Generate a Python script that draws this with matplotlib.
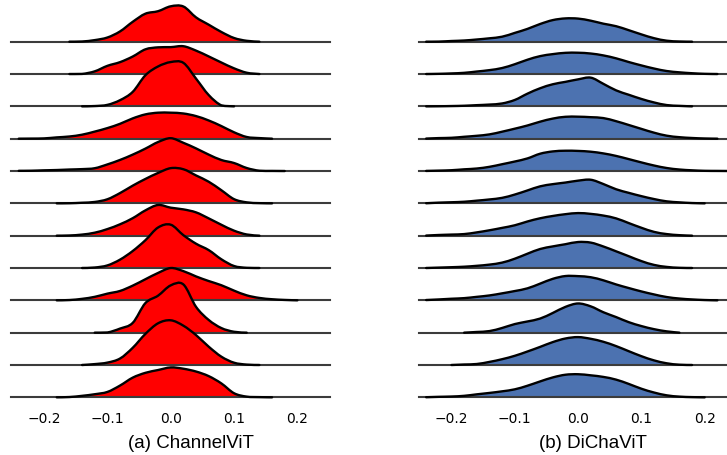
import numpy as np
import matplotlib.pyplot as plt
from matplotlib.path import Path
from matplotlib.patches import PathPatch

# x positions where the ridge heights were read
x_grid = [-0.24, -0.22, -0.20, -0.18, -0.16, -0.14, -0.12, -0.10, -0.08, -0.06,
          -0.04, -0.02, 0.00, 0.02, 0.04, 0.06, 0.08, 0.10, 0.12, 0.14,
          0.16, 0.18, 0.20, 0.22, 0.24]

# density per row (arbitrary units, shared scale), top row first
channelvit = [
    [0, 0, 0, 0, 0, 0.2, 1.6, 4.2, 10.3, 19.9, 28, 30.5, 35.4, 35.2, 24.3, 17, 9.7, 3.7, 0.9, 0, 0, 0, 0, 0, 0],
    [0, 0, 0, 0, 0, 0.1, 2.7, 8.2, 11.9, 17.5, 24.7, 26.7, 26.9, 27.8, 23.4, 17.6, 11.5, 5.7, 1.3, 0, 0, 0, 0, 0, 0],
    [0, 0, 0, 0, 0, 0, 0.3, 1.5, 6.2, 14.5, 31.1, 39.9, 44.3, 43.5, 27.7, 11.3, 1, 0, 0, 0, 0, 0, 0, 0, 0],
    [0, 0.1, 0.3, 1.3, 2.2, 4, 7.1, 10.6, 14.9, 20.3, 24.3, 26, 26, 25.2, 22.6, 18.2, 12.6, 6.4, 1.7, 0.6, 0, 0, 0, 0, 0],
    [0.2, 0.3, 0.7, 1, 1.5, 1.9, 2.8, 6.6, 11.1, 16.4, 22.4, 29, 32.8, 28.2, 22.6, 16.4, 11, 8, 3, 0.3, 0.1, 0, 0, 0, 0],
    [0, 0, 0, 0, 0.1, 0.6, 1.4, 4.1, 10.3, 17.7, 24.4, 30.4, 35.2, 34.1, 27.9, 21.6, 13.1, 4.2, 1, 0.2, 0, 0, 0, 0, 0],
    [0, 0, 0, 0, 0.2, 1.1, 3, 6.6, 11.4, 17.5, 25.3, 30.7, 28, 26.3, 23.3, 17.3, 10.9, 5, 1.2, 0, 0, 0, 0, 0, 0],
    [0, 0, 0, 0, 0, 0, 0.5, 2.6, 8.4, 17, 27.8, 40.5, 43.3, 32.8, 24.3, 17.9, 8.7, 2, 0.2, 0, 0, 0, 0, 0, 0],
    [0, 0, 0, 0, 0.3, 1.5, 3.5, 6.7, 9.4, 14.7, 21.1, 27.4, 32.3, 29.2, 23.9, 19.3, 15.1, 9.7, 5, 2.4, 1.1, 0.4, 0, 0, 0],
    [0, 0, 0, 0, 0, 0, 0, 0.2, 4.1, 9.8, 29.6, 37, 47.3, 48.2, 25.8, 12.7, 4.6, 0.9, 0, 0, 0, 0, 0, 0, 0],
    [0, 0, 0, 0, 0, 0, 0.9, 2.4, 6.5, 17.2, 31.1, 41.7, 44.7, 39.3, 29.9, 18.3, 8.3, 2.3, 0.4, 0, 0, 0, 0, 0, 0],
    [0, 0, 0, 0, 0.3, 1.5, 3.1, 5.4, 11.8, 19.7, 24.5, 27.3, 29.9, 28.6, 25.8, 21.2, 13.9, 4.1, 0.7, 0.2, 0, 0, 0, 0, 0],
]

dichavit = [
    [0, 0.1, 0.7, 1.2, 2.2, 3.4, 5, 8.8, 12.8, 17.7, 21.6, 23.3, 23.1, 21, 18, 15.5, 11.5, 7.3, 3.5, 1, 0.2, 0, 0, 0, 0],
    [0, 0.2, 0.6, 1.2, 2.5, 3.9, 6, 9.8, 14.3, 17.9, 19.9, 21.2, 21.3, 20.5, 18.6, 15.7, 12, 8.6, 5.5, 3, 1.7, 0.8, 0.2, 0, 0],
    [0, 0.1, 0.3, 0.6, 1.2, 1.8, 2.9, 6.4, 12.7, 18.1, 22.1, 24.5, 27, 28.7, 22.5, 16, 11.6, 7.4, 3.9, 1.3, 0.5, 0, 0, 0, 0],
    [0.1, 0.6, 0.9, 1.9, 2.9, 4.3, 7, 10, 13.2, 17, 20.1, 21.9, 22, 21.5, 20.6, 17.5, 13.7, 9.8, 6, 3, 1.5, 0.7, 0.2, 0, 0],
    [0.1, 0.4, 0.8, 1.7, 2.5, 4.2, 6.8, 9.5, 12.6, 17.3, 19.6, 20.3, 20.1, 19.3, 17.6, 15.1, 11.9, 8.6, 5.5, 3, 1.5, 0.7, 0.2, 0.1, 0],
    [0.1, 0.7, 1.1, 1.6, 2.7, 3.9, 5.5, 8.8, 12.9, 17, 19.2, 20.8, 22.7, 23.6, 19.3, 14.1, 10.5, 7.2, 4.3, 2, 1, 0.3, 0, 0, 0],
    [0.1, 0.7, 1.1, 1.6, 3.3, 5.4, 7.8, 10.4, 14.2, 17.4, 19.7, 21.5, 22.6, 21.8, 20.1, 17.3, 12.6, 7.9, 3.8, 1.6, 0.5, 0, 0, 0, 0],
    [0, 0.4, 0.8, 1.3, 2.2, 3.4, 5.4, 9.3, 14.3, 19, 21.6, 23.8, 26, 25.4, 21.5, 16.7, 11.8, 6.9, 3.1, 1.1, 0.2, 0, 0, 0, 0],
    [0.3, 0.9, 1.6, 2.2, 3.5, 4.9, 7, 9.3, 12, 16.7, 21.5, 24.3, 24.2, 23.1, 20, 15.9, 12.3, 8.9, 5.9, 3.3, 1.8, 0.9, 0.3, 0, 0],
    [0, 0, 0, 0, 0.7, 1.6, 4.7, 8.6, 11.2, 14.1, 19.7, 25.8, 29.2, 26.3, 20.4, 15.6, 10.5, 6.6, 3.5, 1.3, 0, 0, 0, 0, 0],
    [0, 0, 0, 0.5, 1, 3.1, 5.8, 9.2, 13.5, 18.1, 22.9, 26.5, 27.9, 26.2, 23.2, 18.9, 13.8, 8.8, 4.6, 1.7, 0.3, 0, 0, 0, 0],
    [0.1, 0.5, 0.8, 1.5, 3, 4.4, 6, 8, 11.6, 15.9, 19.9, 22.6, 23.1, 22, 20.4, 17.7, 13.4, 8.6, 4.8, 2, 0.7, 0.2, 0, 0, 0],
]

tick_vals = [-0.2, -0.1, 0.0, 0.1, 0.2]
captions = ["(a) ChannelViT", "(b) DiChaViT"]
colors = ['#ff0000', '#4c72b0']


def smooth_path(xs, ys, close=False):
    # Catmull-Rom through the read points, drawn as cubic Bezier segments
    pts = np.column_stack([xs, ys])
    ext = np.vstack([pts[0], pts, pts[-1]])
    verts = [pts[0]]
    codes = [Path.MOVETO]
    for k in range(len(pts) - 1):
        p0, p1, p2, p3 = ext[k], ext[k + 1], ext[k + 2], ext[k + 3]
        c1 = p1 + (p2 - p0) / 6
        c2 = p2 - (p3 - p1) / 6
        c1[1] = max(c1[1], 0)
        c2[1] = max(c2[1], 0)
        verts += [c1, c2, p2]
        codes += [Path.CURVE4] * 3
    if close:
        verts += [(xs[-1], 0), (xs[0], 0), (xs[0], 0)]
        codes += [Path.LINETO, Path.LINETO, Path.CLOSEPOLY]
    return Path(np.array(verts, dtype=float), codes)


W, H = 727, 456
fig = plt.figure(figsize=(W / 100, H / 100), dpi=100)

# panel layout in pixels: left edge, width, x limits, caption x
panels = [
    (10.5, 319.5, (-0.253, 0.2515), 191),
    (419, 318, (-0.2513, 0.251), 593),
]

xg = np.array(x_grid)
for p, rows in enumerate([channelvit, dichavit]):
    left, width, xlim, cap_x = panels[p]
    for i, dens in enumerate(rows):
        base = 42.7 + 32.33 * i
        ax = fig.add_axes([left / W, 1 - base / H, width / W, 60 / H])
        ax.patch.set_alpha(0)
        d = np.array(dens, dtype=float)
        nz = np.nonzero(d)[0]
        lo, hi = max(nz[0] - 1, 0), min(nz[-1] + 1, len(d) - 1)
        xs, ys = xg[lo:hi + 1], d[lo:hi + 1]
        ax.add_patch(PathPatch(smooth_path(xs, ys, close=True), facecolor=colors[p],
                               edgecolor='none', zorder=2, clip_on=False))
        ax.axhline(0, color='#3c3c3c', lw=1.5, zorder=3, clip_on=False)
        ax.add_patch(PathPatch(smooth_path(xs, ys), facecolor='none', edgecolor='black',
                               lw=1.7, zorder=4, clip_on=False, capstyle='round'))
        ax.set_xlim(xlim)
        ax.set_ylim(0, 60)
        for s in ax.spines.values():
            s.set_visible(False)
        ax.set_yticks([])
        if i < len(rows) - 1:
            ax.set_xticks([])
        else:
            ax.set_xticks(tick_vals)
            ax.tick_params(axis='x', length=0, pad=9.5, labelsize=10)
    fig.text(cap_x / W, 1 - 448.3 / H, captions[p], ha='center', va='baseline',
             fontsize=13.5, family='Liberation Sans')

fig.savefig("out.png", dpi=100)
